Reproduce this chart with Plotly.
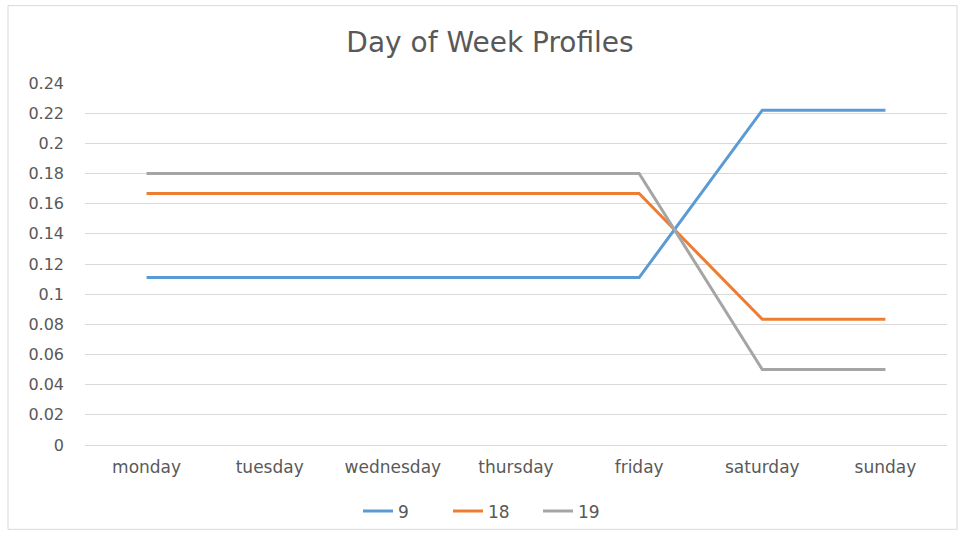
import plotly.graph_objects as go

# Day-of-week share profiles for three clusters
days = ["monday", "tuesday", "wednesday", "thursday", "friday", "saturday", "sunday"]
profile_9 = [0.111, 0.111, 0.111, 0.111, 0.111, 0.222, 0.222]
profile_18 = [0.1667, 0.1667, 0.1667, 0.1667, 0.1667, 0.0833, 0.0833]
profile_19 = [0.18, 0.18, 0.18, 0.18, 0.18, 0.05, 0.05]
series_names = ["9", "18", "19"]
y_ticks = [0, 0.02, 0.04, 0.06, 0.08, 0.1, 0.12, 0.14, 0.16, 0.18, 0.2, 0.22, 0.24]

colors = ["#5B9BD5", "#ED7D31", "#A5A5A5"]
W, H = 963, 541
ML, MR, MT, MB = 85, 16, 83, 93
FONT = "DejaVu Sans"

fig = go.Figure()
for name, vals, col in zip(series_names, [profile_9, profile_18, profile_19], colors):
    fig.add_trace(go.Scatter(
        x=days, y=vals, name=name, mode="lines",
        line=dict(color=col, width=3),
    ))

pw, ph = W - ML - MR, H - MT - MB
def px_x(p):
    return (p - ML) / pw
def px_y(p):
    return (H - MB - p) / ph

# outer chart border
fig.add_shape(type="rect", xref="paper", yref="paper",
              x0=px_x(8), x1=px_x(957), y0=px_y(533), y1=px_y(5),
              line=dict(color="#D9D9D9", width=1), fillcolor="rgba(0,0,0,0)", layer="below")

fig.update_layout(
    width=W, height=H,
    margin=dict(l=ML, r=MR, t=MT, b=MB),
    paper_bgcolor="white", plot_bgcolor="white",
    font=dict(family=FONT, color="#595959"),
    title=dict(text="Day of Week Profiles", x=px_x(490), xref="paper",
               xanchor="center", y=1 - 42 / H, yanchor="middle",
               font=dict(size=28, color="#595959")),
    xaxis=dict(range=[-0.5, 6.5], showgrid=False, zeroline=False,
               showline=False, ticks="", tickfont=dict(size=17),
               ticklabelstandoff=10),
    yaxis=dict(range=[0, 0.24], tickvals=y_ticks,
               ticktext=[f"{v:g}" for v in y_ticks],
               showgrid=True, gridcolor="#D9D9D9", gridwidth=1,
               zeroline=True, zerolinecolor="#D9D9D9", zerolinewidth=1,
               showline=False, ticks="", tickfont=dict(size=16),
               ticklabelstandoff=20),
    legend=dict(orientation="h", x=px_x(493), xanchor="center",
                y=px_y(515), yanchor="middle", font=dict(size=17),
                entrywidth=45, entrywidthmode="pixels",
                bgcolor="rgba(0,0,0,0)"),
    showlegend=True,
)

fig.write_html("out.html")
